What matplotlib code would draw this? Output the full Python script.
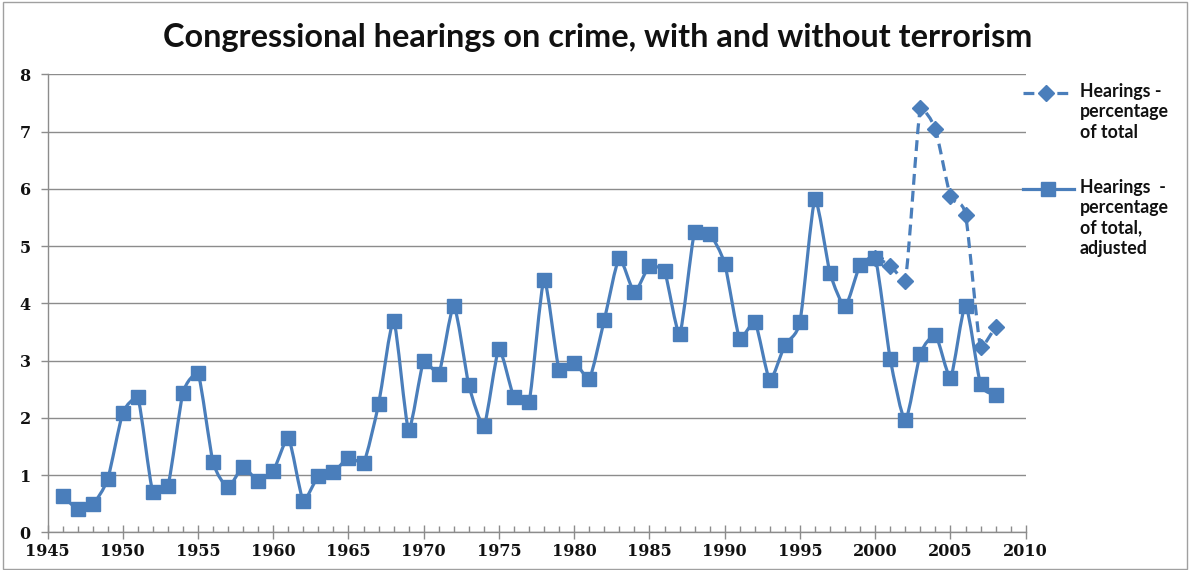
import numpy as np
import matplotlib
matplotlib.use("Agg")
import matplotlib.pyplot as plt
from matplotlib.path import Path
from matplotlib.patches import PathPatch, Rectangle
from matplotlib.lines import Line2D
from matplotlib.ticker import MultipleLocator

# ---- data -------------------------------------------------------------
years = list(range(1946, 2009))
adjusted = [0.64, 0.41, 0.49, 0.93, 2.08, 2.36, 0.70, 0.81, 2.43, 2.78,
            1.23, 0.79, 1.14, 0.90, 1.07, 1.65, 0.55, 0.98, 1.05, 1.30,
            1.21, 2.24, 3.69, 1.79, 2.99, 2.77, 3.95, 2.57, 1.86, 3.20,
            2.36, 2.28, 4.41, 2.84, 2.96, 2.68, 3.71, 4.79, 4.20, 4.65,
            4.56, 3.46, 5.25, 5.21, 4.69, 3.38, 3.68, 2.66, 3.27, 3.68,
            5.82, 4.53, 3.95, 4.67, 4.80, 3.03, 1.96, 3.12, 3.45, 2.70,
            3.96, 2.59, 2.40]
total_years = list(range(2000, 2009))
total = [4.80, 4.66, 4.39, 7.41, 7.04, 5.87, 5.55, 3.23, 3.59]

title = "Congressional hearings on crime, with and without terrorism"
label_total = "Hearings -\npercentage\nof total"
label_adjusted = "Hearings  -\npercentage\nof total,\nadjusted"

BLUE = "#4a7ebb"
GRID = "#8c8c8c"


def smooth_path(xs, ys, k=0.11):
    """Gently smoothed cubic Bezier path through the points."""
    pts = np.column_stack([xs, ys]).astype(float)
    n = len(pts)
    verts = [pts[0]]
    codes = [Path.MOVETO]
    for i in range(n - 1):
        p0 = pts[i - 1] if i > 0 else pts[i]
        p1 = pts[i]
        p2 = pts[i + 1]
        p3 = pts[i + 2] if i + 2 < n else pts[i + 1]
        c1 = p1 + (p2 - p0) * k
        c2 = p2 - (p3 - p1) * k
        lo, hi = min(p1[1], p2[1]), max(p1[1], p2[1])
        c1[1] = np.clip(c1[1], lo, hi)
        c2[1] = np.clip(c2[1], lo, hi)
        verts += [c1, c2, p2]
        codes += [Path.CURVE4] * 3
    return Path(verts, codes)


W, H = 1189, 570
fig = plt.figure(figsize=(W / 100, H / 100), dpi=100)

# outer chart frame
fig.patches.append(Rectangle((2.5 / W, 1.5 / H), (W - 5) / W, (H - 3) / H,
                             transform=fig.transFigure, fill=False,
                             edgecolor="#a0a0a0", linewidth=1.0))

left, right, top, bottom = 47.5, 1025.7, 74.3, 532.3
ax = fig.add_axes([left / W, 1 - bottom / H, (right - left) / W, (bottom - top) / H])

ax.set_xlim(1945, 2010)
ax.set_ylim(0, 8)

DASH = (0, (3.4, 1.9))

# dashed series (with terrorism)
ax.add_patch(PathPatch(smooth_path(total_years, total), fill=False,
                       edgecolor=BLUE, linewidth=2.3, linestyle=DASH,
                       capstyle="butt", zorder=3))
ax.plot(total_years, total, linestyle="none", marker="D", markersize=8,
        color=BLUE, zorder=3)

# solid series (adjusted)
ax.add_patch(PathPatch(smooth_path(years, adjusted), fill=False,
                       edgecolor=BLUE, linewidth=2.3, zorder=4))
ax.plot(years, adjusted, linestyle="none", marker="s", markersize=10,
        color=BLUE, zorder=4)

# axes styling
for s in ["top", "right"]:
    ax.spines[s].set_visible(False)
for s in ["left", "bottom"]:
    ax.spines[s].set_color(GRID)
    ax.spines[s].set_linewidth(1.0)

ax.yaxis.set_major_locator(MultipleLocator(1))
ax.xaxis.set_major_locator(MultipleLocator(5))
ax.xaxis.set_minor_locator(MultipleLocator(1))
ax.grid(axis="y", color=GRID, linewidth=1.0)
ax.set_axisbelow(True)

tick_font = dict(family="DejaVu Serif", weight="bold", size=11.5)
ax.tick_params(axis="y", direction="out", length=5, width=1, color=GRID, pad=7)
ax.tick_params(axis="x", which="major", direction="inout", length=10, width=1,
               color=GRID, pad=3)
ax.tick_params(axis="x", which="minor", direction="in", length=4, width=1,
               color=GRID)
for lab in ax.get_xticklabels() + ax.get_yticklabels():
    lab.set_fontproperties(tick_font)
    lab.set_color("#111111")

fig.text(598 / W, 1 - 38 / H, title, ha="center", va="center",
         fontsize=23.3, fontweight="bold", family="Lato", color="#111111")

# legend drawn in figure pixel coordinates
leg = fig.add_axes([0, 0, 1, 1], facecolor="none")
leg.set_xlim(0, W)
leg.set_ylim(H, 0)
leg.axis("off")
leg.add_line(Line2D([1023, 1068], [93, 93], color=BLUE, linewidth=2.3,
                    linestyle=DASH))
leg.plot([1046], [93], marker="D", markersize=8, color=BLUE)
leg.add_line(Line2D([1023, 1074], [189, 189], color=BLUE, linewidth=2.3))
leg.plot([1048], [189], marker="s", markersize=10, color=BLUE)

legend_font = dict(family="Lato", weight="bold", fontsize=12.8, color="#111111",
                   linespacing=1.24, ha="left", va="top")
leg.text(1080, 83, label_total, **legend_font)
leg.text(1080, 179, label_adjusted, **legend_font)

fig.savefig("out.png", dpi=100)
